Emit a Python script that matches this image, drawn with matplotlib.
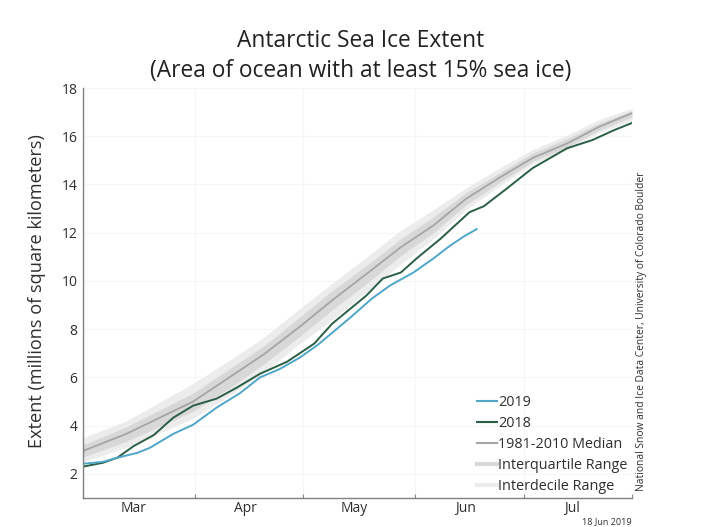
#!/usr/bin/env python3
# Antarctic sea ice extent vs. time of year, daily values
import matplotlib
matplotlib.use('Agg')
import matplotlib.pyplot as plt
from matplotlib.lines import Line2D

plt.rcParams['font.family'] = ['Open Sans', 'DejaVu Sans']

# Days since 1 March
band_days = [0, 12, 30.5, 41.5, 50, 60, 69, 79, 88, 97, 106, 115.5, 124.5, 134, 143, 152]
median = [2.95, 3.66, 5.0, 6.1, 6.95, 8.1, 9.2, 10.35, 11.4, 12.3, 13.4, 14.3, 15.1, 15.7, 16.4, 16.96]
p25 = [2.7, 3.35, 4.6, 5.65, 6.55, 7.7, 8.8, 9.95, 11.05, 12.0, 13.15, 14.1, 14.95, 15.55, 16.25, 16.8]
p75 = [3.2, 3.95, 5.35, 6.45, 7.3, 8.5, 9.6, 10.7, 11.75, 12.65, 13.65, 14.5, 15.3, 15.9, 16.55, 17.05]
p10 = [2.5, 3.1, 4.3, 5.35, 6.2, 7.4, 8.4, 9.6, 10.7, 11.75, 12.95, 13.95, 14.85, 15.45, 16.15, 16.65]
p90 = [3.5, 4.2, 5.75, 6.8, 7.65, 8.85, 9.9, 11.05, 12.1, 12.95, 13.85, 14.7, 15.45, 16.05, 16.7, 17.15]

days_2018 = [0, 5.5, 9.5, 14, 19.5, 25, 30.5, 37, 42.5, 49, 56.5, 64, 69, 78.5, 83, 88, 92.5, 99, 107, 111, 117.5, 124.5, 134, 141, 147, 152]
ext_2018 = [2.3, 2.46, 2.67, 3.15, 3.6, 4.33, 4.83, 5.12, 5.57, 6.15, 6.65, 7.4, 8.23, 9.4, 10.1, 10.35, 10.95, 11.75, 12.85, 13.1, 13.85, 14.68, 15.5, 15.84, 16.25, 16.55]
days_2019 = [0, 5.5, 9.5, 15, 18.5, 25, 30.5, 37, 43.5, 49, 54.5, 60, 65, 74, 80, 85, 91.5, 97, 101.5, 105.5, 109]
ext_2019 = [2.42, 2.5, 2.67, 2.87, 3.08, 3.66, 4.04, 4.75, 5.35, 6.0, 6.35, 6.82, 7.35, 8.48, 9.27, 9.81, 10.35, 10.93, 11.45, 11.85, 12.15]

month_ticks = [0, 31, 61, 92, 122, 152]
month_centers = [14, 45, 75, 106, 135.5]
month_labels = ['Mar', 'Apr', 'May', 'Jun', 'Jul']
y_ticks = [2, 4, 6, 8, 10, 12, 14, 16, 18]

color_2019 = '#4fa6c8'
color_2018 = '#2a5f45'
color_median = '#a5a5a5'
color_iqr = '#d8d8d8'
color_idr = '#ececec'
text_color = '#2e2e2e'

fig = plt.figure(figsize=(7.2, 5.27), dpi=100)
ax = fig.add_axes([83 / 720, 29 / 527, 549 / 720, 410 / 527])

ax.fill_between(band_days, p10, p90, color=color_idr, lw=0)
ax.fill_between(band_days, p25, p75, color=color_iqr, lw=0)
ax.plot(band_days, median, color=color_median, lw=1.3)
ax.plot(days_2018, ext_2018, color=color_2018, lw=1.4)
ax.plot(days_2019, ext_2019, color=color_2019, lw=1.4)

ax.set_xlim(0, 152)
ax.set_ylim(1, 18)
ax.set_xticks(month_ticks)
ax.set_xticklabels([])
ax.set_xticks(month_centers, month_labels, minor=True)
ax.set_yticks(y_ticks)
ax.tick_params(axis='x', which='major', length=3, color='#888888', direction='in')
ax.tick_params(axis='x', which='minor', length=0, pad=2, labelsize=10, labelcolor=text_color)
ax.tick_params(axis='y', length=0, pad=4, labelsize=10, labelcolor=text_color)
ax.grid(True, color='#f6f6f6', lw=0.8)
ax.set_axisbelow(True)
for side in ['top', 'right']:
    ax.spines[side].set_visible(False)
for side in ['left', 'bottom']:
    ax.spines[side].set_color('#808080')
    ax.spines[side].set_linewidth(1)

ax.set_ylabel('Extent (millions of square kilometers)', fontsize=13.1, color=text_color, labelpad=11, y=0.505)
fig.text(360.5 / 720, 1 - 41 / 527, 'Antarctic Sea Ice Extent', fontsize=16.4, color='#222222', ha='center', va='center')
fig.text(360.5 / 720, 1 - 71 / 527, '(Area of ocean with at least 15% sea ice)', fontsize=16.4, color='#222222', ha='center', va='center')

handles = [
    Line2D([], [], color=color_2019, lw=1.5),
    Line2D([], [], color=color_2018, lw=1.5),
    Line2D([], [], color=color_median, lw=1.5),
    Line2D([], [], color=color_iqr, lw=3),
    Line2D([], [], color=color_idr, lw=3),
]
ax.legend(handles, ['2019', '2018', '1981-2010 Median', 'Interquartile Range', 'Interdecile Range'],
          loc='lower left', bbox_to_anchor=(0.7098, -0.001), frameon=False, fontsize=10.4,
          labelcolor=text_color, handlelength=1.4, handletextpad=0.06, labelspacing=0.42,
          borderpad=0.3, borderaxespad=0)

fig.text(641.5 / 720, 1 - 331.5 / 527, 'National Snow and Ice Data Center, University of Colorado Boulder',
         fontsize=7.4, color=text_color, rotation=90, ha='center', va='center')
fig.text(607 / 720, 1 - 522 / 527, '18 Jun 2019', fontsize=6.5, color=text_color, ha='center', va='center')

fig.savefig('out.png', dpi=100)
